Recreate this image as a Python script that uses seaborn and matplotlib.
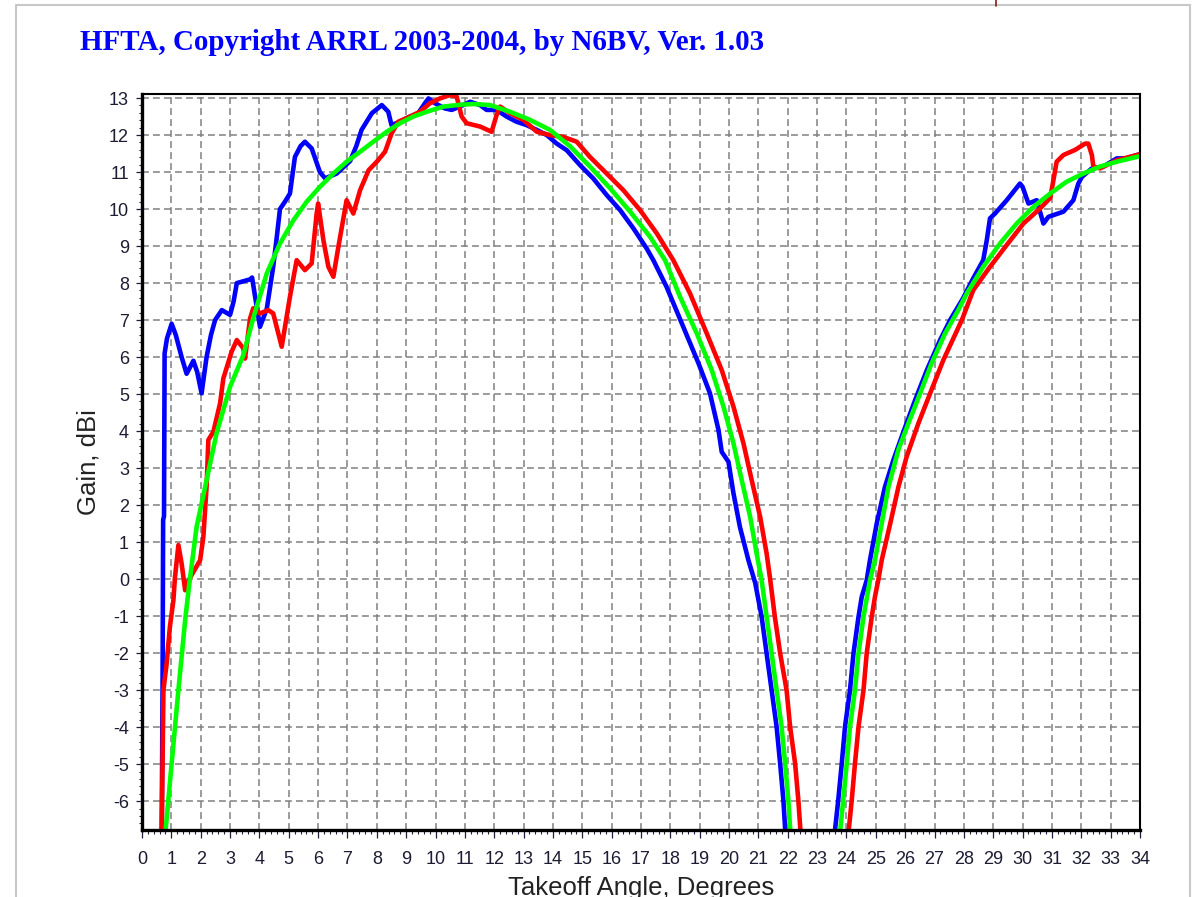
import matplotlib
matplotlib.use("Agg")
import matplotlib.pyplot as plt
import seaborn as sns
from matplotlib.ticker import MultipleLocator
from matplotlib.patches import Rectangle
from matplotlib.lines import Line2D

TITLE = "HFTA, Copyright ARRL 2003-2004, by N6BV, Ver. 1.03"
X_LABEL = "Takeoff Angle, Degrees"
Y_LABEL = "Gain, dBi"

# blue trace (takeoff angle in degrees, gain in dBi)
blue_deg = [0.67, 0.70, 0.72, 0.75, 0.77, 0.85, 1.01, 1.15, 1.35, 1.52, 1.62, 1.75, 1.88, 2.03,
            2.20, 2.35, 2.49, 2.72, 3.00, 3.12, 3.23, 3.45, 3.68, 3.75, 3.88, 4.02, 4.25, 4.47,
            4.60, 4.70, 4.87, 5.04, 5.21, 5.40, 5.55, 5.78, 6.06, 6.24, 6.63, 7.09, 7.30, 7.48,
            7.83, 8.17, 8.39, 8.50, 8.79, 9.13, 9.41, 9.64, 9.76, 9.98, 10.32, 10.55, 10.83,
            11.18, 11.52, 11.74, 12.08, 12.42, 12.76, 13.10, 13.45, 13.79, 14.13, 14.47, 14.92,
            15.37, 15.83, 16.29, 16.74, 17.19, 17.42, 17.87, 18.44, 18.96, 19.35, 19.64, 19.75,
            19.98, 20.15, 20.37, 20.66, 20.89, 21.11, 21.28, 21.45, 21.62, 21.74, 21.85, 21.93,
            22.75, 23.58, 23.72, 23.84, 23.95, 24.12, 24.24, 24.41, 24.52, 24.69, 24.80, 25.03,
            25.31, 25.60, 25.94, 26.34, 26.74, 27.19, 27.53, 27.98, 28.30, 28.66, 28.78, 28.89,
            29.06, 29.46, 29.91, 30.00, 30.20, 30.48, 30.71, 30.88, 31.39, 31.73, 31.90, 32.02,
            32.36, 32.75, 33.21, 33.55, 33.89, 34.00]
blue_gain = [-7.0, -3.0, 1.6, 1.7, 6.1, 6.5, 6.9, 6.6, 6.0, 5.55, 5.7, 5.9, 5.6, 5.02,
             6.0, 6.6, 7.0, 7.27, 7.14, 7.5, 8.0, 8.05, 8.1, 8.15, 7.5, 6.82, 7.3, 8.44,
             9.3, 10.0, 10.2, 10.42, 11.41, 11.7, 11.82, 11.64, 11.0, 10.83, 10.96, 11.3, 11.7, 12.14,
             12.59, 12.81, 12.63, 12.27, 12.36, 12.5, 12.59, 12.86, 12.99, 12.86, 12.72, 12.68, 12.77,
             12.9, 12.81, 12.68, 12.68, 12.5, 12.36, 12.27, 12.14, 12.0, 11.77, 11.59, 11.19,
             10.83, 10.38, 9.97, 9.48, 8.94, 8.62, 7.9, 6.82, 5.83, 5.02, 4.03, 3.44,
             3.17, 2.32, 1.41, 0.51, -0.1, -1.02, -2.0, -3.0, -3.99, -4.98, -5.97, -7.0,
             -30.0, -7.0, -5.97, -4.98, -3.99, -3.0, -2.0, -1.02, -0.48, -0.03, 0.51, 1.5,
             2.49, 3.22, 3.98, 4.84, 5.65, 6.46, 7.0, 7.6, 8.1, 8.62, 9.16, 9.75,
             9.88, 10.24, 10.69, 10.6, 10.15, 10.24, 9.61, 9.79, 9.93, 10.24, 10.69, 10.87,
             11.1, 11.15, 11.37, 11.37, 11.46, 11.48]

# red trace
red_deg = [0.67, 0.73, 0.84, 0.95, 1.07, 1.12, 1.24, 1.35, 1.47, 1.58, 1.69, 1.98, 2.09, 2.20,
           2.26, 2.43, 2.66, 2.77, 3.05, 3.23, 3.45, 3.51, 3.68, 3.79, 4.02, 4.30, 4.47, 4.76,
           5.04, 5.27, 5.55, 5.78, 5.95, 6.00, 6.18, 6.35, 6.52, 6.69, 6.97, 7.20, 7.43, 7.72,
           8.00, 8.28, 8.50, 8.73, 9.13, 9.47, 9.81, 10.15, 10.49, 10.72, 10.89, 11.06, 11.52,
           11.91, 12.08, 12.20, 12.54, 12.99, 13.45, 13.90, 14.35, 14.81, 15.26, 15.83, 16.40,
           16.97, 17.54, 18.10, 18.67, 19.24, 19.75, 20.15, 20.49, 20.77, 21.06, 21.28, 21.40,
           21.56, 21.74, 21.96, 22.08, 22.25, 22.36, 22.45, 23.20, 24.05, 24.18, 24.29, 24.41,
           24.58, 24.69, 24.86, 24.97, 25.09, 25.20, 25.49, 25.77, 26.05, 26.45, 26.85, 27.30,
           27.93, 28.32, 28.89, 29.46, 30.03, 30.60, 30.94, 31.05, 31.16, 31.39, 31.79, 32.13,
           32.24, 32.36, 32.41, 32.64, 33.21, 33.89, 34.00]
red_gain = [-7.0, -3.0, -2.28, -1.29, -0.57, 0.02, 0.92, 0.42, -0.3, -0.05, 0.11, 0.51, 1.14, 2.49,
            3.76, 3.98, 4.75, 5.42, 6.14, 6.46, 6.24, 5.96, 7.04, 7.32, 7.18, 7.27, 7.18, 6.28,
            7.63, 8.62, 8.35, 8.53, 9.88, 10.15, 9.16, 8.44, 8.17, 8.98, 10.24, 9.88, 10.51, 11.05,
            11.28, 11.55, 12.04, 12.36, 12.5, 12.63, 12.86, 12.99, 13.08, 13.04, 12.5, 12.32, 12.23,
            12.09, 12.54, 12.77, 12.59, 12.41, 12.09, 12.0, 11.95, 11.82, 11.41, 10.96, 10.51,
            9.97, 9.34, 8.62, 7.72, 6.64, 5.65, 4.66, 3.67, 2.68, 1.68, 0.69, 0.0,
            -1.02, -2.0, -3.0, -3.99, -4.98, -5.97, -7.0, -30.0, -7.0, -5.97, -4.98, -3.99,
            -3.0, -2.0, -1.02, -0.48, 0.0, 0.51, 1.5, 2.49, 3.31, 4.21, 5.02, 5.92,
            7.0, 7.81, 8.44, 9.03, 9.61, 10.02, 10.3, 10.78, 11.28, 11.46, 11.6, 11.77,
            11.77, 11.46, 11.15, 11.1, 11.32, 11.46, 11.48]

# green trace
green_deg = [0.78, 1.01, 1.24, 1.47, 1.60, 1.86, 2.15, 2.54, 3.00, 3.45, 3.79, 4.25, 4.70, 5.16,
             5.61, 6.06, 6.52, 6.97, 7.43, 7.88, 8.34, 8.79, 9.24, 9.70, 10.27, 10.84, 11.30,
             11.86, 12.54, 13.22, 13.90, 14.58, 15.26, 15.95, 16.63, 17.31, 17.82, 18.33, 18.90,
             19.41, 19.81, 20.15, 20.43, 20.72, 20.94, 21.11, 21.28, 21.45, 21.62, 21.79, 21.91,
             22.02, 22.10, 22.95, 23.76, 23.89, 24.01, 24.12, 24.29, 24.41, 24.58, 24.80, 24.97,
             25.20, 25.43, 25.77, 26.11, 26.51, 26.90, 27.36, 27.81, 28.10, 28.66, 29.23, 29.80,
             30.37, 30.94, 31.50, 32.07, 32.64, 33.21, 33.89, 34.00]
green_gain = [-7.0, -4.98, -3.0, -1.11, -0.2, 1.41, 2.49, 3.94, 5.2, 6.05, 7.05, 8.26, 9.07, 9.7,
              10.2, 10.6, 10.96, 11.28, 11.55, 11.82, 12.09, 12.32, 12.5, 12.63, 12.77, 12.82, 12.84,
              12.81, 12.63, 12.41, 12.14, 11.7, 11.15, 10.56, 9.93, 9.25, 8.62, 7.63, 6.64,
              5.65, 4.66, 3.67, 2.68, 1.68, 0.69, -0.03, -1.02, -2.0, -3.0, -3.99, -4.98,
              -5.97, -7.0, -30.0, -7.0, -5.97, -4.98, -3.99, -3.0, -2.0, -1.02, -0.03, 0.51,
              1.5, 2.49, 3.5, 4.21, 5.02, 5.83, 6.64, 7.27, 7.72, 8.44, 9.07, 9.61,
              10.06, 10.42, 10.74, 10.96, 11.15, 11.28, 11.41, 11.43]

sns.set_style("white")
plt.rcParams["font.family"] = ["Liberation Sans", "DejaVu Sans"]
plt.rcParams["axes.unicode_minus"] = False

fig = plt.figure(figsize=(11.96, 8.97), dpi=100)
ax = fig.add_axes([142 / 1196, 1 - 830 / 897, 998 / 1196, 736 / 897])

for xs, ys, col in [(blue_deg, blue_gain, "#0000ff"),
                    (red_deg, red_gain, "#ff0000"),
                    (green_deg, green_gain, "#00ff00")]:
    sns.lineplot(x=xs, y=ys, color=col, linewidth=3.3, sort=False, estimator=None, ax=ax)

ax.set_xlim(0, 34)
ax.set_ylim(-6.78, 13.11)
ax.xaxis.set_major_locator(MultipleLocator(1))
ax.xaxis.set_minor_locator(MultipleLocator(0.2))
ax.yaxis.set_major_locator(MultipleLocator(1))
ax.yaxis.set_minor_locator(MultipleLocator(0.2))

ax.grid(True, which="major", color="#808080", linestyle=(0, (4.5, 2.7)), linewidth=1.1)
ax.set_axisbelow(True)

for side, w in [("left", 2.4), ("bottom", 2.4), ("top", 1.5), ("right", 1.5)]:
    ax.spines[side].set_visible(True)
    ax.spines[side].set_color("black")
    ax.spines[side].set_linewidth(w)

ax.tick_params(axis="x", which="major", direction="out", length=5.8, width=0.9,
               labelsize=13, pad=9, bottom=True)
ax.tick_params(axis="x", which="minor", direction="out", length=2.9, width=0.8, bottom=True)
ax.tick_params(axis="y", which="major", direction="out", length=4.3, width=0.9,
               labelsize=13, pad=5, left=True)
ax.tick_params(axis="y", which="minor", direction="out", length=2.2, width=0.8, left=True)
ax.tick_params(which="both", axis="both", color="#202038", labelcolor="#1c1c34")

ax.set_xlabel(X_LABEL, fontsize=18.5, color="#222222", labelpad=6)
ax.set_ylabel(Y_LABEL, fontsize=18.5, color="#222222", labelpad=6)

fig.text(80 / 1196, 1 - 50 / 897, TITLE, family=["Liberation Serif", "DejaVu Serif"],
         weight="bold", size=20.9, color="#0000ff", ha="left", va="baseline")

# window frame of the screenshot
fig.add_artist(Rectangle((16 / 1196, -0.1), (1190 - 16) / 1196, 1.1 - 5 / 897,
                         fill=False, edgecolor="#c8c8c8", linewidth=1.5,
                         transform=fig.transFigure))
fig.add_artist(Line2D([996 / 1196, 996 / 1196], [1, 1 - 6 / 897], color="#8b1a1a",
                      linewidth=1.2, transform=fig.transFigure))

fig.savefig("out.png", dpi=100, facecolor="white")
plt.close(fig)
